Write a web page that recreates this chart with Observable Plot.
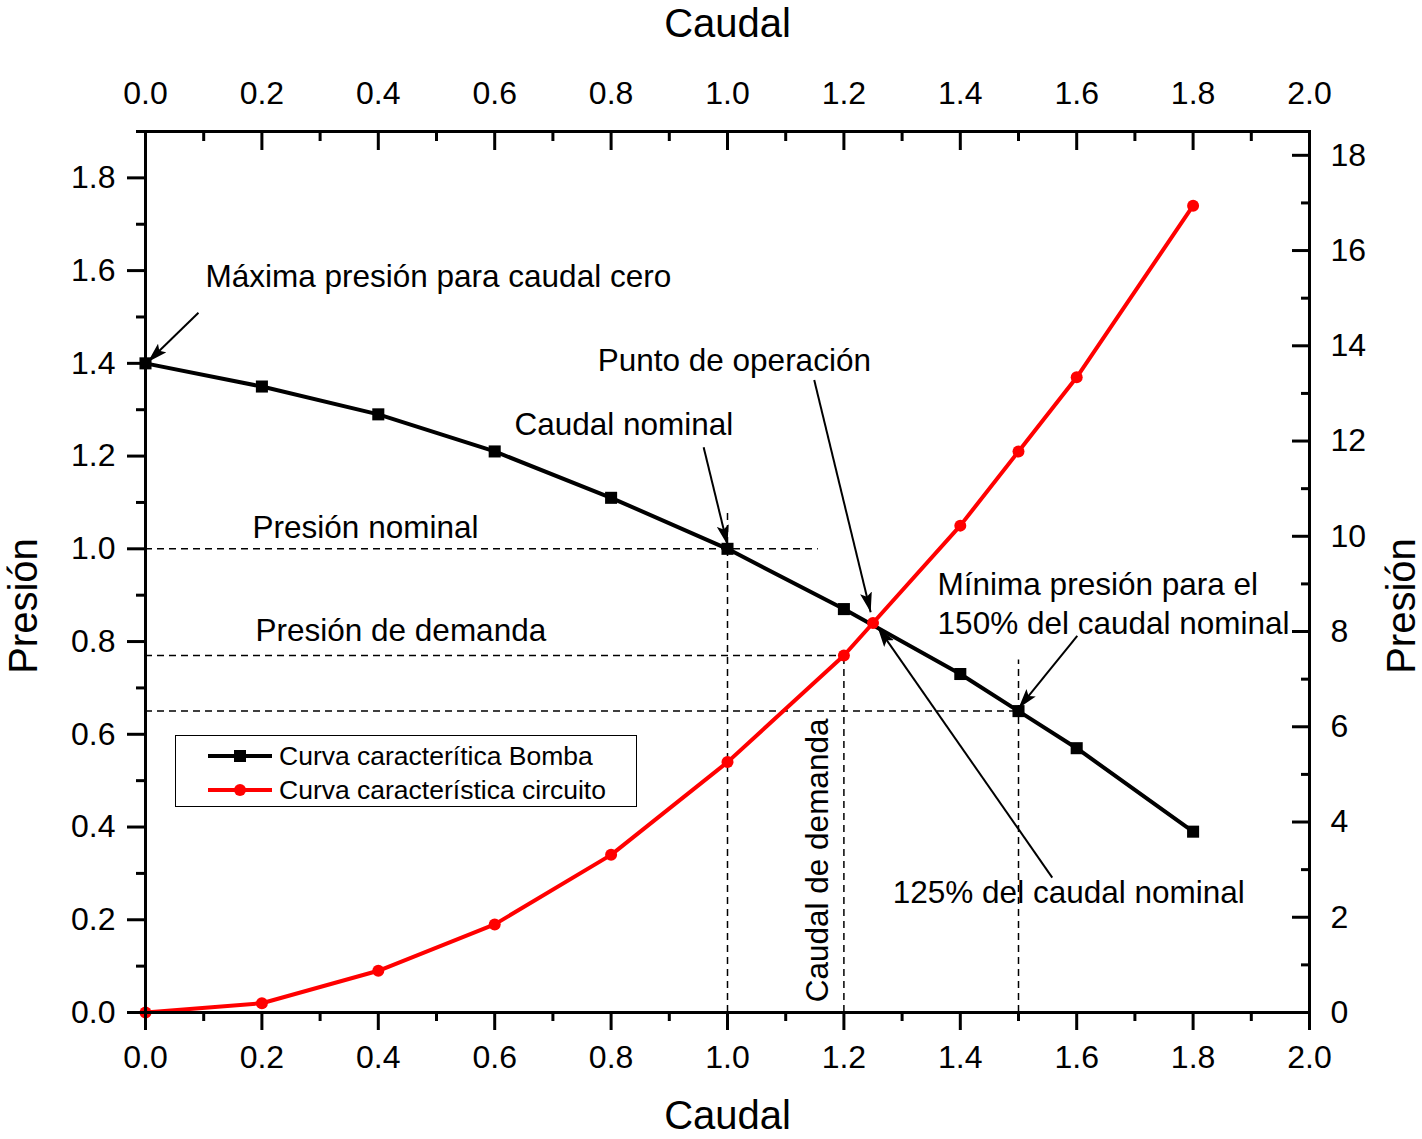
<!DOCTYPE html>
<html>
<head>
<meta charset="utf-8">
<script src="https://cdn.jsdelivr.net/npm/d3@7"></script>
<script src="https://cdn.jsdelivr.net/npm/@observablehq/plot@0.6"></script>
<style>
  body { margin: 0; background: #fff; }
  #wrap { position: relative; width: 1422px; height: 1139px; font-family: "Liberation Sans", Arial, sans-serif; }
  #legend { position: absolute; left: 175px; top: 735px; width: 462px; height: 72px; box-sizing: border-box;
            border: 1.5px solid #000; background: #fff; }
  .row { position: absolute; left: 0; height: 30px; }
  .row svg { position: absolute; left: 32px; top: 0; }
  .row span { position: absolute; left: 103px; top: 0; line-height: 30px; font-size: 26.5px; white-space: nowrap; color: #000; }
</style>
</head>
<body>
<div id="wrap">
  <div id="chart"></div>
  <div id="legend"></div>
</div>
<script>
// Pump characteristic curve (Caudal vs Presión)
const pumpFlow = [0, 0.2, 0.4, 0.6, 0.8, 1.0, 1.2, 1.4, 1.5, 1.6, 1.8];
const pumpPressure = [1.40, 1.35, 1.29, 1.21, 1.11, 1.00, 0.87, 0.73, 0.65, 0.57, 0.39];

// Circuit characteristic curve
const circuitFlow = [0, 0.2, 0.4, 0.6, 0.8, 1.0, 1.2, 1.25, 1.4, 1.5, 1.6, 1.8];
const circuitPressure = [0, 0.02, 0.09, 0.19, 0.34, 0.54, 0.77, 0.84, 1.05, 1.21, 1.37, 1.74];

// Series names
const seriesNames = ["Curva caracterítica Bomba", "Curva característica circuito"];
const seriesColors = ["#000000", "#ff0000"];

// Dashed guide lines: horizontal levels and their right end, vertical flows and their top end
const guideLevels = [1.0, 0.77, 0.65];
const guideLevelEnds = [1.156, 1.2, 1.5];
const guideFlows = [1.0, 1.2, 1.5];
const guideFlowEnds = [1.086, 0.77, 0.76];

// Annotation labels (start x, middle y)
const noteTexts = ["Máxima presión para caudal cero", "Punto de operación", "Caudal nominal",
  "Presión nominal", "Presión de demanda", "Mínima presión para el", "150% del caudal nominal",
  "125% del caudal nominal"];
const noteX = [0.103, 0.777, 0.634, 0.184, 0.189, 1.361, 1.361, 1.284];
const noteY = [1.586, 1.405, 1.267, 1.045, 0.824, 0.922, 0.837, 0.257];

// Vertical annotation
const sideNote = ["Caudal de demanda"];
const sideNoteX = [1.156];
const sideNoteY = [0.328];

// Annotation arrows: tail and head
const arrowX1 = [0.091, 1.149, 0.959, 1.601, 1.558];
const arrowY1 = [1.509, 1.364, 1.219, 0.812, 0.291];
const arrowX2 = [0.004, 1.246, 1.0, 1.5, 1.258];
const arrowY2 = [1.403, 0.863, 1.008, 0.656, 0.831];

// Axis ticks
const xMajor = d3.range(11).map(i => i / 5);
const xMinor = d3.range(10).map(i => (2 * i + 1) / 10);
const yMajor = d3.range(10).map(i => i / 5);
const yMinor = d3.range(10).map(i => (2 * i + 1) / 10);
const rightMajor = d3.range(10).map(i => i * 2);
const rightMinor = d3.range(9).map(i => i * 2 + 1);

// Right axis (0–18.5) shares the plot area with the left axis (0–1.9)
const yTop = 1.9, rightTop = 18.5;
const k = yTop / rightTop;

const pump = pumpFlow.map((x, i) => ({x, y: pumpPressure[i]}));
const circuit = circuitFlow.map((x, i) => ({x, y: circuitPressure[i]}));
const hGuides = guideLevels.map((y, i) => ({y, x1: 0, x2: guideLevelEnds[i]}));
const vGuides = guideFlows.map((x, i) => ({x, y1: 0, y2: guideFlowEnds[i]}));
const notes = noteTexts.map((t, i) => ({t, x: noteX[i], y: noteY[i]}));
const sideNotes = sideNote.map((t, i) => ({t, x: sideNoteX[i], y: sideNoteY[i]}));
const arrows = arrowX1.map((x1, i) => ({x1, y1: arrowY1[i], x2: arrowX2[i], y2: arrowY2[i]}));

const fmt1 = d => d.toFixed(1);
const blank = () => "";
const font = "'Liberation Sans', Arial, sans-serif";
const dash = {stroke: "black", strokeWidth: 1.5, strokeDasharray: "7,5"};
const title = {text: d => d, fontSize: 40, fill: "black", textAnchor: "middle", lineAnchor: "middle"};

const chart = Plot.plot({
  width: 1422, height: 1139,
  marginLeft: 145, marginRight: 113, marginTop: 131, marginBottom: 127,
  style: {fontFamily: font, background: "white", color: "black"},
  x: {domain: [0, 2]},
  y: {domain: [0, yTop]},
  marks: [
    Plot.ruleY(hGuides, {y: "y", x1: "x1", x2: "x2", ...dash}),
    Plot.ruleX(vGuides, {x: "x", y1: "y1", y2: "y2", ...dash}),

    Plot.line(pump, {x: "x", y: "y", stroke: seriesColors[0], strokeWidth: 4}),
    Plot.dot(pump, {x: "x", y: "y", symbol: "square", r: 6.8, fill: seriesColors[0]}),
    Plot.line(circuit, {x: "x", y: "y", stroke: seriesColors[1], strokeWidth: 4}),
    Plot.dot(circuit, {x: "x", y: "y", r: 6, fill: seriesColors[1]}),

    Plot.link(arrows, {x1: "x1", y1: "y1", x2: "x2", y2: "y2", stroke: "black", strokeWidth: 2}),

    Plot.text(notes, {x: "x", y: "y", text: "t", textAnchor: "start", fontSize: 31.5, fill: "black"}),
    Plot.text(sideNotes, {x: "x", y: "y", text: "t", rotate: -90, fontSize: 31.5, fill: "black"}),

    // bottom axis: outward ticks
    Plot.axisX(xMajor, {anchor: "bottom", tickSize: 18, tickPadding: 15, tickFormat: fmt1, fontSize: 32, strokeWidth: 3, label: null}),
    Plot.axisX(xMinor, {anchor: "bottom", tickSize: 9, tickFormat: blank, strokeWidth: 3, label: null}),
    // top axis: labels outside, ticks inward
    Plot.axisX(xMajor, {anchor: "top", tickSize: 0, tickPadding: 28, tickFormat: fmt1, fontSize: 32, label: null}),
    Plot.axisX(xMajor, {anchor: "top", tickSize: 18, dy: 18, tickFormat: blank, strokeWidth: 3, label: null}),
    Plot.axisX(xMinor, {anchor: "top", tickSize: 9, dy: 9, tickFormat: blank, strokeWidth: 3, label: null}),
    // left axis: outward ticks
    Plot.axisY(yMajor, {anchor: "left", tickSize: 18, tickPadding: 12, tickFormat: fmt1, fontSize: 32, strokeWidth: 3, label: null}),
    Plot.axisY(yMinor, {anchor: "left", tickSize: 9, tickFormat: blank, strokeWidth: 3, label: null}),
    // right axis: labels outside, ticks inward
    Plot.axisY(rightMajor.map(v => v * k), {anchor: "right", tickSize: 0, tickPadding: 21, tickFormat: d => String(Math.round(d / k)), fontSize: 32, label: null}),
    Plot.axisY(rightMajor.map(v => v * k), {anchor: "right", tickSize: 18, dx: -18, tickFormat: blank, strokeWidth: 3, label: null}),
    Plot.axisY(rightMinor.map(v => v * k), {anchor: "right", tickSize: 9, dx: -9, tickFormat: blank, strokeWidth: 3, label: null}),

    Plot.frame({stroke: "black", strokeWidth: 3}),

    // axis titles
    Plot.text(["Caudal"], {...title, frameAnchor: "bottom", dy: 104}),
    Plot.text(["Caudal"], {...title, frameAnchor: "top", dy: -107}),
    Plot.text(["Presión"], {...title, frameAnchor: "left", dx: -121, dy: 34, rotate: -90}),
    Plot.text(["Presión"], {...title, frameAnchor: "right", dx: 93, dy: 34, rotate: -90})
  ]
});

// Filled arrowheads for the annotation arrows
const svgNS = "http://www.w3.org/2000/svg";
const defs = document.createElementNS(svgNS, "defs");
const marker = document.createElementNS(svgNS, "marker");
marker.setAttribute("id", "head");
marker.setAttribute("viewBox", "0 0 20 12");
marker.setAttribute("refX", "20");
marker.setAttribute("refY", "6");
marker.setAttribute("markerWidth", "20");
marker.setAttribute("markerHeight", "12");
marker.setAttribute("markerUnits", "userSpaceOnUse");
marker.setAttribute("orient", "auto");
const tri = document.createElementNS(svgNS, "path");
tri.setAttribute("d", "M0,0L20,6L0,12L4,6Z");
tri.setAttribute("fill", "black");
marker.appendChild(tri);
defs.appendChild(marker);
chart.insertBefore(defs, chart.firstChild);
const linkGroup = chart.querySelector('g[aria-label="link"]');
if (linkGroup) linkGroup.querySelectorAll("path").forEach(p => p.setAttribute("marker-end", "url(#head)"));

document.getElementById("chart").appendChild(chart);

// Legend
const legend = document.getElementById("legend");
const rowTops = [5, 39];
seriesNames.forEach((name, i) => {
  const row = document.createElement("div");
  row.className = "row";
  row.style.top = rowTops[i] + "px";
  const sw = d3.create("svg").attr("width", 66).attr("height", 30);
  sw.append("line").attr("x1", 0).attr("x2", 64).attr("y1", 15).attr("y2", 15)
    .attr("stroke", seriesColors[i]).attr("stroke-width", 4);
  if (i === 0) sw.append("rect").attr("x", 26).attr("y", 9).attr("width", 12).attr("height", 12).attr("fill", seriesColors[i]);
  else sw.append("circle").attr("cx", 32).attr("cy", 15).attr("r", 6).attr("fill", seriesColors[i]);
  row.appendChild(sw.node());
  const label = document.createElement("span");
  label.textContent = name;
  row.appendChild(label);
  legend.appendChild(row);
});
</script>
</body>
</html>
